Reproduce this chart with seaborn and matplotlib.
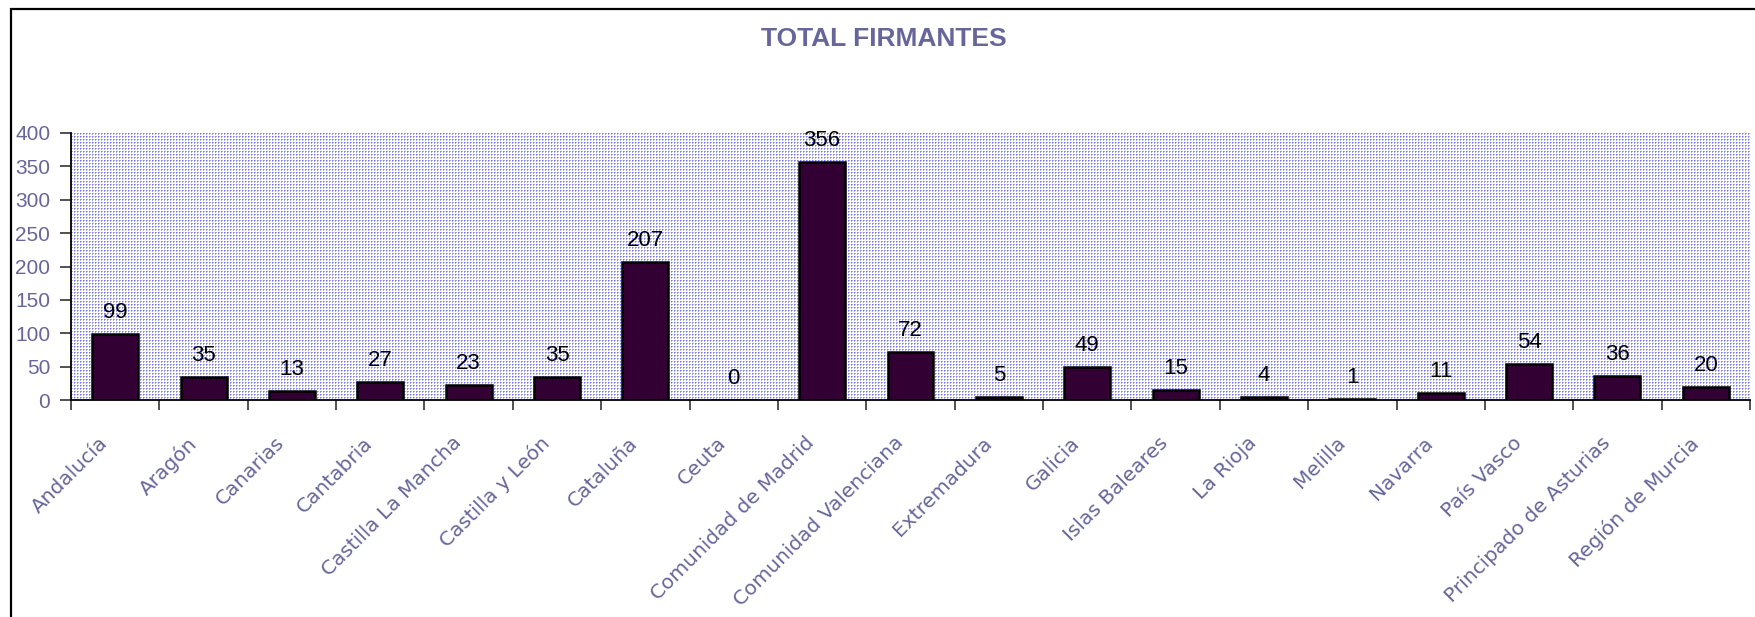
import numpy as np
import pandas as pd
import matplotlib
matplotlib.use("Agg")
import matplotlib.pyplot as plt
import matplotlib.transforms as mtransforms
from matplotlib.patches import Rectangle
import seaborn as sns

# Data
regiones = ["Andalucía", "Aragón", "Canarias", "Cantabria", "Castilla La Mancha",
            "Castilla y León", "Cataluña", "Ceuta", "Comunidad de Madrid",
            "Comunidad Valenciana", "Extremadura", "Galicia", "Islas Baleares",
            "La Rioja", "Melilla", "Navarra", "País Vasco",
            "Principado de Asturias", "Región de Murcia"]
firmantes = [99, 35, 13, 27, 23, 35, 207, 0, 356, 72, 5, 49, 15, 4, 1, 11, 54, 36, 20]
y_ticks = [0, 50, 100, 150, 200, 250, 300, 350, 400]

TEXT_COLOR = "#66669C"
BAR_COLOR = "#330033"


def dotted_background(h, w):
    # small blue dot texture like the Excel plot area fill
    img = np.ones((h, w, 3))
    rows = np.arange(h)[:, None]
    cols = np.arange(w)[None, :]
    dot = (rows % 3 == 0) & (cols % 3 == 0)
    halo = ((rows % 3 == 0) & (cols % 3 == 1)) | ((rows % 3 == 1) & (cols % 3 == 0))
    img[halo] = np.array([170, 170, 255]) / 255
    img[dot] = np.array([120, 120, 255]) / 255
    return img


def main():
    df = pd.DataFrame({"region": regiones, "firmantes": firmantes})

    sns.set_theme(style="white")
    plt.rcParams["font.family"] = ["Liberation Sans", "DejaVu Sans"]

    W, H = 1756, 617
    fig = plt.figure(figsize=(W / 100, H / 100), dpi=100)
    x0, x1, y0, y1 = 71, 1750, 133, 400
    ax = fig.add_axes([x0 / W, 1 - y1 / H, (x1 - x0) / W, (y1 - y0) / H])

    # outer chart frame (only left and top visible in the reference)
    fig.add_artist(Rectangle((11 / W, -0.5), 2, 1.5 - 9 / H, transform=fig.transFigure,
                             fill=False, edgecolor="black", linewidth=1.6))

    ax.imshow(dotted_background(y1 - y0, x1 - x0), extent=(0, 1, 0, 1),
              transform=ax.transAxes, aspect="auto", interpolation="nearest", zorder=0)

    sns.barplot(data=df, x="region", y="firmantes", color=BAR_COLOR, width=0.52,
                edgecolor="black", linewidth=1.8, saturation=1, ax=ax, zorder=2)
    for c in ax.containers:
        ax.bar_label(c, labels=[str(v) for v in firmantes], padding=8,
                     fontsize=16, color="black")

    ax.set_xlim(-0.5, len(regiones) - 0.5)
    ax.set_ylim(0, 400)
    ax.set_yticks(y_ticks)
    ax.tick_params(axis="y", direction="out", length=8, width=1.2, color="#333333",
                   labelsize=15, labelcolor=TEXT_COLOR, pad=7, left=True)

    # category labels at bar centres, tick marks between categories (Excel style)
    ax.set_xticks(range(len(regiones)))
    ax.set_xticklabels(regiones, rotation=45, ha="right", va="top", rotation_mode="anchor",
                       fontsize=14.5, color=TEXT_COLOR, family="DejaVu Sans")
    ax.tick_params(axis="x", which="major", length=0, pad=24)
    shift = mtransforms.ScaledTranslation(-17 / 100, 0, fig.dpi_scale_trans)
    for lbl in ax.get_xticklabels():
        lbl.set_transform(lbl.get_transform() + shift)
    ax.set_xticks(np.arange(-0.5, len(regiones)), minor=True)
    ax.tick_params(axis="x", which="minor", direction="out", length=7, width=1.2,
                   color="#333333", bottom=True)

    for s in ["top", "right"]:
        ax.spines[s].set_visible(False)
    for s in ["left", "bottom"]:
        ax.spines[s].set_color("black")
        ax.spines[s].set_linewidth(1.3)
    ax.set_xlabel("")
    ax.set_ylabel("")

    fig.text(884 / W, 1 - 46 / H, "TOTAL FIRMANTES", ha="center", va="baseline",
             fontsize=19, fontweight="bold", color=TEXT_COLOR)

    fig.savefig("out.png", dpi=100, facecolor="white")


if __name__ == "__main__":
    main()
